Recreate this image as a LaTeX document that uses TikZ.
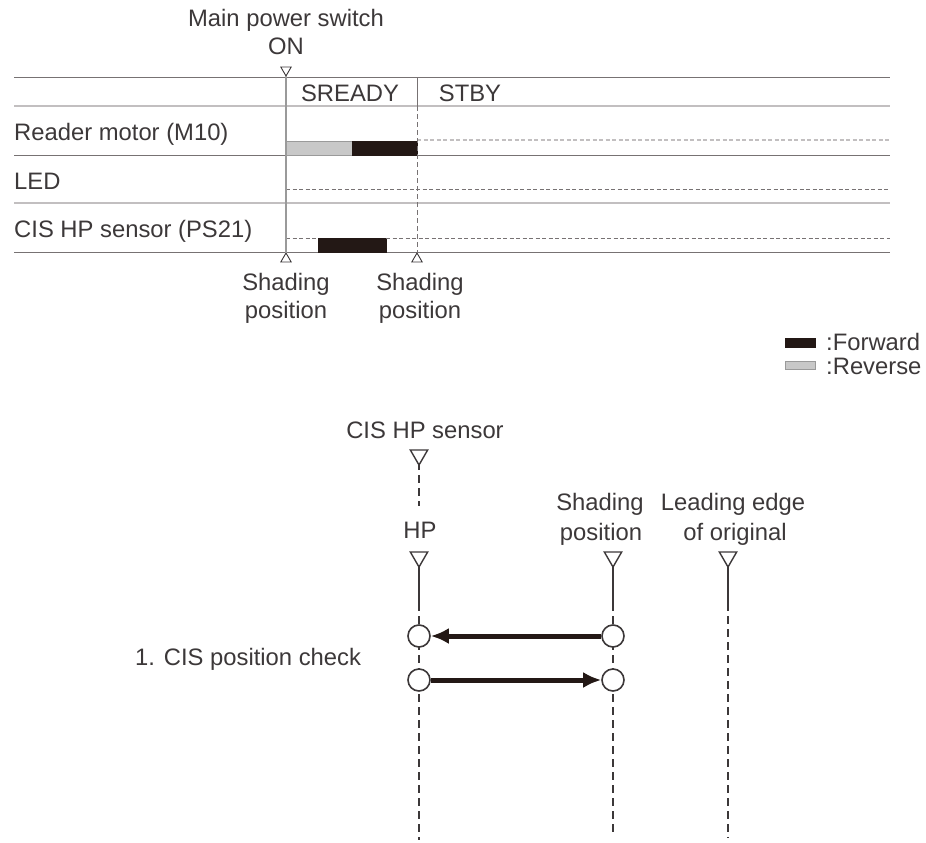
\documentclass[tikz,border=0pt]{standalone}
\usepackage{fontspec}
\setmainfont{Liberation Sans}
\usepackage{tikz}
\usetikzlibrary{arrows.meta,positioning,shapes.geometric}
\definecolor{ChartInk}{HTML}{3C3839}
\definecolor{ChartRule}{HTML}{777273}
\definecolor{ChartPale}{HTML}{C2BFC0}
\definecolor{ChartFwd}{HTML}{231815}
\definecolor{ChartRev}{HTML}{C8C8C8}
\definecolor{ChartEdge}{HTML}{9A9A9A}

\tikzset{
  chartlabel/.style={text=ChartInk,inner sep=0pt,font=\fontsize{23.8}{28}\selectfont},
  rowrule/.style={draw=ChartRule,line width=1pt},
  palerule/.style={draw=ChartPale,line width=2pt},
  timeline/.style={draw=ChartEdge,line width=1.2pt},
  offline/.style={draw=ChartRule,line width=1pt,dash pattern=on 4pt off 2.5pt},
  paleoff/.style={draw=ChartPale,line width=1.6pt,dash pattern=on 4pt off 2.5pt},
  fwdbar/.style={fill=ChartFwd,draw=ChartFwd,line width=0.6pt},
  revbar/.style={fill=ChartRev,draw=ChartEdge,line width=0.6pt},
  marker/.style={regular polygon,regular polygon sides=3,draw=ChartInk,fill=white,
    inner sep=0pt,outer sep=0pt,line width=#1},
  tickdown/.style={marker=0.9pt,minimum size=12pt,shape border rotate=180},
  tickup/.style={marker=0.9pt,minimum size=12pt},
  pointer/.style={marker=1.4pt,minimum size=20pt,shape border rotate=180},
  probe/.style={circle,draw=ChartInk,fill=white,line width=1.6pt,minimum size=22pt,inner sep=0pt},
  travel/.style={-{Latex[length=18pt,width=16pt]},draw=ChartFwd,line width=5pt},
  trackline/.style={draw=ChartInk,line width=1.3pt},
  trackdash/.style={draw=ChartInk,line width=1.3pt,dash pattern=on 8pt off 5pt},
}

\begin{document}
\begin{tikzpicture}[x=1pt,y=-1pt]
  \useasboundingbox (0,0) rectangle (926,843);
  % Timing chart rows.
  \draw[rowrule] (14,77) -- (890,77);
  \draw[palerule] (14,106) -- (890,106);
  \draw[rowrule] (14,155) -- (890,155);
  \draw[palerule] (14,203) -- (890,203);
  \draw[rowrule] (14,252) -- (890,252);
  \node[chartlabel,anchor=base] (switchtxt) at (286,27) {Main power switch};
  \node[chartlabel,anchor=base] (ontxt) at (286,55) {ON};
  \node[chartlabel,anchor=base] (sready) at (350,101) {SREADY};
  \node[chartlabel,anchor=base] (stby) at (470,101) {STBY};
  \node[chartlabel,anchor=base west] (motortxt) at (14,140) {Reader motor (M10)};
  \node[chartlabel,anchor=base west] (ledtxt) at (14,189) {LED};
  \node[chartlabel,anchor=base west] (sensortxt) at (14,237) {CIS HP sensor (PS21)};
  % Signals.
  \draw[revbar] (286,141) rectangle (352,155);
  \draw[fwdbar] (352,141) rectangle (417,155);
  \draw[paleoff] (417,140) -- (890,140);
  \draw[offline] (286,189) -- (890,189);
  \draw[offline] (286,238) -- (318,238);
  \draw[fwdbar] (318,238) rectangle (386,252);
  \draw[offline] (386,238) -- (890,238);
  % Time marks.
  \node[tickdown] (on) at (286,70) {};
  \node[tickup] (shadeA) at (286,259) {};
  \node[tickup] (shadeB) at (417,259) {};
  \draw[timeline] (on.corner 1) -- (shadeA.corner 1);
  \draw[rowrule] (417,77) -- (417,106);
  \draw[offline,dash pattern=on 5pt off 3pt] (417,106) -- (shadeB.corner 1);
  \node[chartlabel,anchor=base] (shadeAtop) at (286,290) {Shading};
  \node[chartlabel,anchor=base] (shadeAbot) at (286,318) {position};
  \node[chartlabel,anchor=base] (shadeBtop) at (420,290) {Shading};
  \node[chartlabel,anchor=base] (shadeBbot) at (420,318) {position};
  % Legend.
  \draw[fwdbar] (785,338) rectangle (815,347);
  \node[chartlabel,anchor=base west] (fwdtxt) at (826,350) {:Forward};
  \draw[revbar] (785,361) rectangle (815,369);
  \node[chartlabel,anchor=base west] (revtxt) at (826,374) {:Reverse};
  % CIS positions.
  \node[chartlabel,anchor=base] (cistxt) at (425,438) {CIS HP sensor};
  \node[pointer] (sensortri) at (419,455) {};
  \draw[trackdash,dash phase=-10pt] (sensortri.corner 1) -- ++(0,41);
  \node[chartlabel,anchor=base] (hptxt) at (420,538) {HP};
  \node[chartlabel,anchor=base] (shdtop) at (600,510) {Shading};
  \node[chartlabel,anchor=base] (shdbot) at (601,540) {position};
  \node[chartlabel,anchor=base] (leadtop) at (733,510) {Leading edge};
  \node[chartlabel,anchor=base] (leadbot) at (735,540) {of original};
  \node[pointer] (hptri) at (419,557) {};
  \node[pointer] (shdtri) at (613,557) {};
  \node[pointer] (leadtri) at (728,557) {};
  \coordinate (hpend) at (419,840);
  \coordinate (shdend) at (613,833);
  \coordinate (leadend) at (728,838);
  \draw[trackline] (hptri.corner 1) -- ++(0,36) coordinate (hpmid);
  \draw[trackdash] (hpmid) -- (hpend);
  \draw[trackline] (shdtri.corner 1) -- ++(0,36) coordinate (shdmid);
  \draw[trackdash] (shdmid) -- (shdend);
  \draw[trackline] (leadtri.corner 1) -- ++(0,36) coordinate (leadmid);
  \draw[trackdash] (leadmid) -- (leadend);
  % Position check.
  \node[chartlabel,anchor=base west] (checktxt) at (135,665) {1. CIS position check};
  \node[probe] (homeA) at (419,636) {};
  \node[probe] (shdA) at (613,636) {};
  \node[probe] (homeB) at (419,680) {};
  \node[probe] (shdB) at (613,680) {};
  \draw[travel] (shdA) -- (homeA);
  \draw[travel] (homeB) -- (shdB);
\end{tikzpicture}
\end{document}
